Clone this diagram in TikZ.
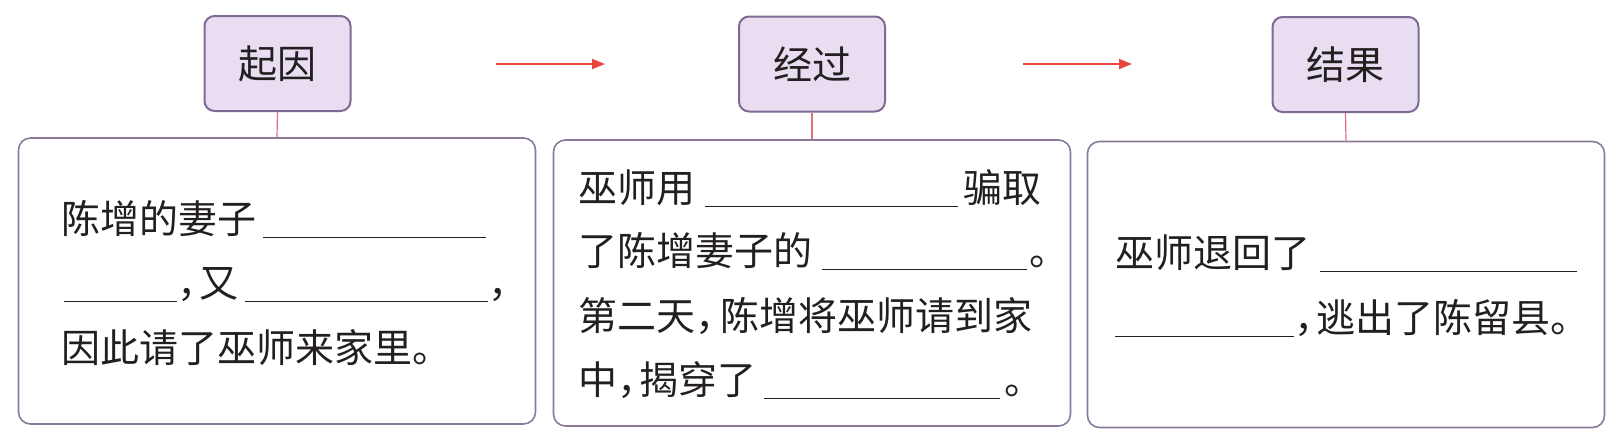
\documentclass[tikz,border=0pt]{standalone}
\usepackage{fontspec}
\setmainfont{Noto Sans CJK SC}
\usetikzlibrary{arrows.meta}
\definecolor{titlefill}{HTML}{E9DDF1}
\definecolor{titleborder}{HTML}{7E6A92}
\definecolor{boxborder}{HTML}{8A7A9C}
\definecolor{linkred}{HTML}{E07080}
\definecolor{arrowred}{HTML}{E8473F}
\definecolor{ink}{HTML}{231F20}
\newcommand{\blankline}[1]{\rule[-2.5pt]{#1}{0.7pt}}
\newcommand{\halfcomma}{\makebox[11pt][l]{，}}
\begin{document}
\begin{tikzpicture}[x=0.5pt,y=-0.5pt,
  font=\fontsize{19.5pt}{24pt}\selectfont, text=ink,
  titlebox/.style={draw=titleborder, line width=1pt, fill=titlefill, rounded corners=5pt,
    minimum width=73pt, minimum height=47.5pt, inner sep=0pt},
  mainbox/.style={draw=boxborder, line width=0.8pt, rounded corners=6pt,
    minimum width=258.5pt, minimum height=143pt, inner sep=0pt},
  textline/.style={anchor=base west, inner sep=0pt},
  link/.style={draw=linkred, line width=0.6pt},
  flow/.style={draw=arrowred, line width=0.9pt, -{Triangle[length=6.5pt,width=5pt]}}]
\useasboundingbox (0,0) rectangle (1618,436);

% title boxes
\node[titlebox] (t1) at (277.5,63.5) {起因};
\node[titlebox] (t2) at (812,64) {经过};
\node[titlebox] (t3) at (1345.5,64.5) {结果};

% main boxes
\node[mainbox] (b1) at (277,281) {};
\node[mainbox] (b2) at (812,283) {};
\node[mainbox] (b3) at (1346,284.5) {};

% links
\draw[link] (t1.south) -- (b1.north);
\draw[link] (t2.south) -- (b2.north);
\draw[link] (t3.south) -- (b3.north);

% flow arrows
\coordinate (a1s) at (496,64);
\coordinate (a1e) at (605,64);
\coordinate (a2s) at (1023,64);
\coordinate (a2e) at (1132,64);
\draw[flow] (a1s) -- (a1e);
\draw[flow] (a2s) -- (a2e);

% box 1 text
\node[textline] (l11) at (61,233) {陈增的妻子\hspace{3.5pt}\blankline{111.5pt}};
\node[textline] (l12) at (64,297) {\blankline{56.5pt}\halfcomma 又\hspace{3.5pt}\blankline{121.5pt}，};
\node[textline] (l13) at (61,362) {因此请了巫师来家里。};

% box 2 text
\node[textline] (l21) at (578,202) {巫师用\hspace{5pt}\blankline{126.5pt}\hspace{2.5pt}骗取};
\node[textline] (l22) at (578,265) {了陈增妻子的\hspace{5pt}\blankline{102.5pt}\hspace{1pt}。};
\node[textline] (l23) at (578,330) {第二天\makebox[12.5pt][l]{，}陈增将巫师请到家};
\node[textline] (l24) at (578,394) {中\halfcomma 揭穿了\hspace{4pt}\blankline{118pt}\hspace{2pt}。};

% box 3 text
\node[textline] (l31) at (1115,267) {巫师退回了\hspace{5pt}\blankline{128.5pt}};
\node[textline] (l32) at (1115,332) {\blankline{89.5pt}\halfcomma 逃出了陈留县。};
\end{tikzpicture}
\end{document}
